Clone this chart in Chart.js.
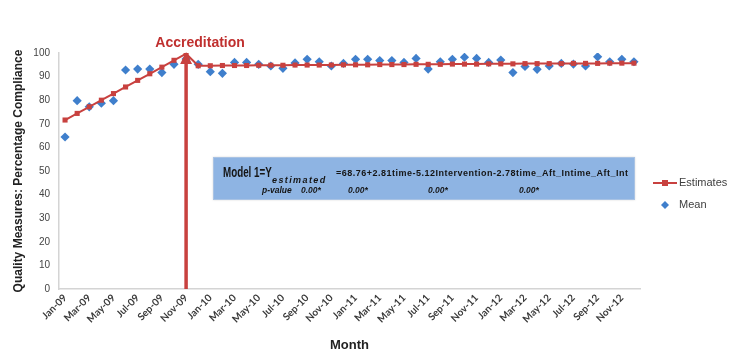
<!DOCTYPE html>
<html>
<head>
<meta charset="utf-8">
<script src="https://cdn.jsdelivr.net/npm/chart.js@4.4.0/dist/chart.umd.min.js"></script>
<style>
body { margin: 0; background: #fff; }
#wrap { position: relative; width: 750px; height: 360px; }
#model {
    position: absolute; left: 213px; top: 157px; width: 422px; height: 43px;
    background: #8eb4e3; border: 1px solid #a9c3e4; box-sizing: border-box;
    box-shadow: 0 0 2px rgba(0,0,0,0.15);
    font-family: "Liberation Sans", Arial, sans-serif; font-weight: bold; color: #151515;
}
#model span { position: absolute; white-space: nowrap; line-height: 1; }
.m1 { font-size: 14px; left: 9px; top: 7px; transform: scaleX(0.7); transform-origin: left center; }
.sub { font-size: 9px; font-style: italic; left: 58px; top: 18px; letter-spacing: 1.4px; }
.eq { font-size: 9px; left: 122px; top: 11px; letter-spacing: 0.5px; }
.pv { font-size: 8.5px; font-style: italic; top: 28px; }
</style>
</head>
<body>
<div id="wrap">
<canvas id="chart" width="750" height="360"></canvas>
<div id="model">
  <span class="m1">Model 1=Y</span>
  <span class="sub">estimated</span>
  <span class="eq">=68.76+2.81time-5.12Intervention-2.78time_Aft_Intime_Aft_Int</span>
  <span class="pv" style="left:48px">p-value</span>
  <span class="pv" style="left:87px">0.00*</span>
  <span class="pv" style="left:134px">0.00*</span>
  <span class="pv" style="left:214px">0.00*</span>
  <span class="pv" style="left:305px">0.00*</span>
</div>
</div>
<script>
const months = ["Jan-09","Feb-09","Mar-09","Apr-09","May-09","Jun-09","Jul-09","Aug-09","Sep-09","Oct-09","Nov-09","Dec-09",
                "Jan-10","Feb-10","Mar-10","Apr-10","May-10","Jun-10","Jul-10","Aug-10","Sep-10","Oct-10","Nov-10","Dec-10",
                "Jan-11","Feb-11","Mar-11","Apr-11","May-11","Jun-11","Jul-11","Aug-11","Sep-11","Oct-11","Nov-11","Dec-11",
                "Jan-12","Feb-12","Mar-12","Apr-12","May-12","Jun-12","Jul-12","Aug-12","Sep-12","Oct-12","Nov-12","Dec-12"];

const estimates = [71.6, 74.4, 77.2, 80.0, 82.8, 85.6, 88.4, 91.2, 94.0, 96.9, 99.7, 94.6,
                   94.6, 94.7, 94.7, 94.7, 94.8, 94.8, 94.8, 94.9, 94.9, 94.9, 94.9, 95.0,
                   95.0, 95.0, 95.1, 95.1, 95.1, 95.2, 95.2, 95.2, 95.3, 95.3, 95.3, 95.4,
                   95.4, 95.4, 95.5, 95.5, 95.5, 95.5, 95.6, 95.6, 95.6, 95.7, 95.7, 95.7];

const mean = [64.4, 79.8, 77.2, 78.7, 79.8, 92.8, 93.2, 93.2, 91.7, 95.2, 97.5, 95.2,
              92.1, 91.4, 96.0, 96.0, 95.2, 94.5, 93.5, 95.8, 97.3, 96.3, 94.5, 95.6,
              97.3, 97.3, 96.8, 96.8, 96.0, 97.7, 93.2, 96.3, 97.3, 98.2, 97.7, 96.0,
              97.0, 91.7, 94.3, 93.1, 94.5, 95.6, 95.3, 94.5, 98.4, 96.3, 97.3, 96.3];

const yTicks = [0, 10, 20, 30, 40, 50, 60, 70, 80, 90, 100];
const accreditationMonth = "Nov-09";

const red = "#c8413f";
const blue = "#3f7fcc";

// arrow, label and legend drawn on top of the plot
const extras = {
    id: "extras",
    afterDatasetsDraw(chart) {
        const ctx = chart.ctx;
        const x = chart.scales.x.getPixelForValue(months.indexOf(accreditationMonth));
        const yBot = chart.scales.y.getPixelForValue(0);
        const yTop = chart.scales.y.getPixelForValue(100);
        ctx.save();
        ctx.strokeStyle = red;
        ctx.fillStyle = red;
        ctx.lineWidth = 3.5;
        ctx.beginPath();
        ctx.moveTo(x, yBot);
        ctx.lineTo(x, yTop + 8);
        ctx.stroke();
        ctx.beginPath();
        ctx.moveTo(x, yTop - 1);
        ctx.lineTo(x - 6, yTop + 11);
        ctx.lineTo(x + 6, yTop + 11);
        ctx.closePath();
        ctx.fill();

        ctx.font = "bold 14px 'Liberation Sans', Arial, sans-serif";
        ctx.fillStyle = "#c0302f";
        ctx.textAlign = "center";
        ctx.textBaseline = "middle";
        ctx.fillText("Accreditation", x + 14, 43);

        // legend
        const lx = 665;
        ctx.lineWidth = 2;
        ctx.strokeStyle = red;
        ctx.beginPath();
        ctx.moveTo(lx - 12, 183);
        ctx.lineTo(lx + 12, 183);
        ctx.stroke();
        ctx.fillStyle = red;
        ctx.fillRect(lx - 3, 180, 6, 6);
        ctx.fillStyle = blue;
        ctx.beginPath();
        ctx.moveTo(lx, 201);
        ctx.lineTo(lx + 4, 205);
        ctx.lineTo(lx, 209);
        ctx.lineTo(lx - 4, 205);
        ctx.closePath();
        ctx.fill();
        ctx.font = "11px 'Liberation Sans', Arial, sans-serif";
        ctx.fillStyle = "#404040";
        ctx.textAlign = "left";
        ctx.fillText("Estimates", lx + 14, 183);
        ctx.fillText("Mean", lx + 14, 205);
        ctx.restore();
    }
};

new Chart(document.getElementById("chart"), {
    type: "line",
    data: {
        labels: months,
        datasets: [{
            label: "Estimates",
            data: estimates,
            borderColor: red,
            backgroundColor: red,
            borderWidth: 2,
            pointStyle: "rect",
            pointRadius: 3.6,
            pointBorderWidth: 0,
            fill: false,
            tension: 0,
            order: 0
        }, {
            label: "Mean",
            data: mean,
            showLine: false,
            borderColor: blue,
            backgroundColor: blue,
            pointStyle: "rectRot",
            pointRadius: 4.6,
            pointBorderWidth: 0,
            order: 1
        }]
    },
    options: {
        responsive: false,
        animation: false,
        layout: { padding: { top: 53, right: 110, left: 0, bottom: 0 } },
        plugins: { legend: { display: false }, tooltip: { enabled: false } },
        scales: {
            x: {
                offset: true,
                grid: { display: false, drawTicks: false },
                border: { display: true, color: "#d4d4d4", width: 1.5 },
                afterFit: s => { s.height = 71; },
                ticks: {
                    autoSkip: false,
                    maxRotation: 45,
                    minRotation: 45,
                    padding: 3,
                    color: "#3a3a3a",
                    font: { family: "Lato, 'Liberation Sans', sans-serif", size: 10, weight: "bold" },
                    callback: (v, i) => i % 2 === 0 ? months[i] : ""
                },
                title: {
                    display: true,
                    text: "Month",
                    color: "#222",
                    font: { family: "'Liberation Sans', Arial, sans-serif", size: 13, weight: "bold" },
                    padding: { top: 0, bottom: 7 }
                }
            },
            y: {
                min: 0,
                max: 100,
                afterBuildTicks: s => { s.ticks = yTicks.map(v => ({ value: v })); },
                afterFit: s => { s.width = 59; },
                grid: { display: false, drawTicks: false },
                border: { display: true, color: "#d4d4d4", width: 1.5 },
                ticks: {
                    padding: 9,
                    color: "#444",
                    font: { family: "'Liberation Sans', Arial, sans-serif", size: 10 }
                },
                title: {
                    display: true,
                    text: "Quality Measures: Percentage Compliance",
                    color: "#222",
                    font: { family: "'Liberation Sans', Arial, sans-serif", size: 12, weight: "bold" },
                    padding: { top: 11, bottom: 0 }
                }
            }
        }
    },
    plugins: [extras]
});
</script>
</body>
</html>
